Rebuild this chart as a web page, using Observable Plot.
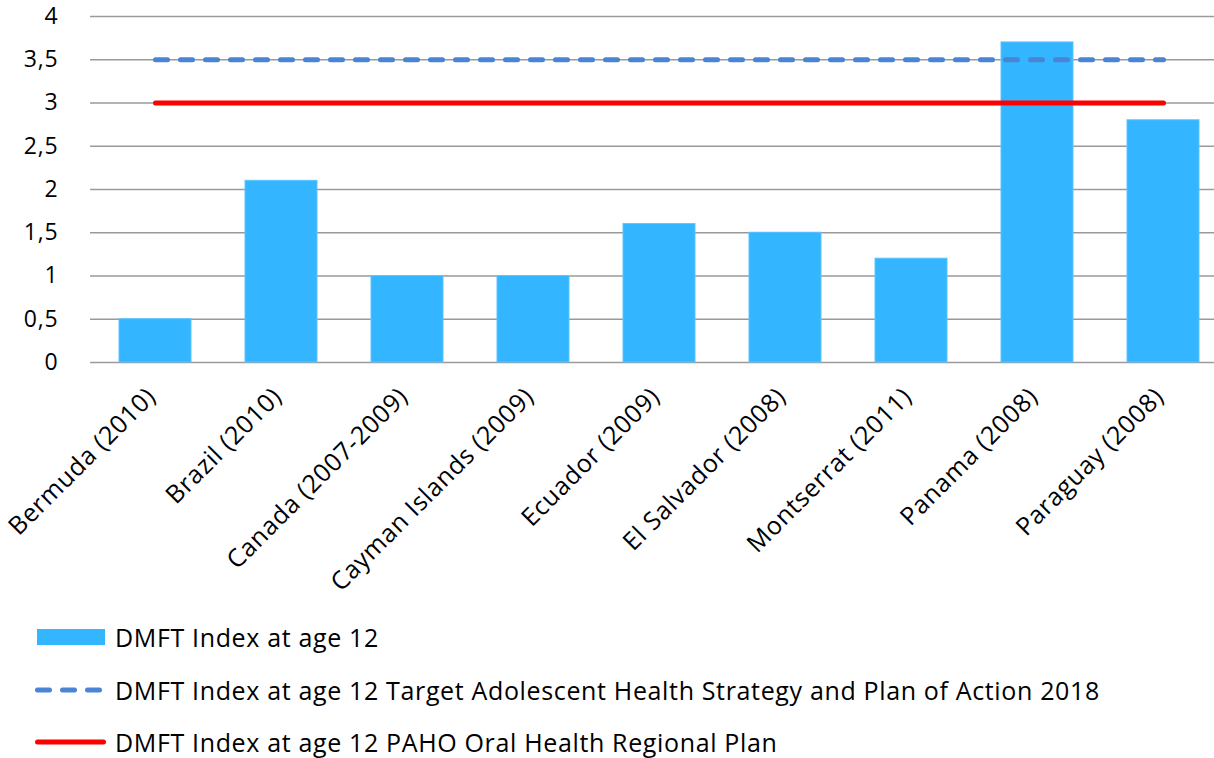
<!DOCTYPE html>
<html>
<head>
<meta charset="utf-8">
<script src="https://cdn.jsdelivr.net/npm/d3@7"></script>
<script src="https://cdn.jsdelivr.net/npm/@observablehq/plot@0.6"></script>
<style>
  html, body { margin: 0; padding: 0; background: #fff; }
  body { width: 1214px; height: 758px; position: relative; overflow: hidden; font-family: "Open Sans", sans-serif; }
  #chart { position: absolute; left: 0; top: 0; }
  .legend-item { position: absolute; left: 0; height: 30px; display: flex; align-items: center; font-size: 25px; letter-spacing: 0.65px; color: #000; white-space: nowrap; }
  .legend-item svg { display: block; margin-right: 8px; }
  .xaxis text { letter-spacing: 0.65px; }
  .yaxis text { letter-spacing: 0.8px; }
</style>
</head>
<body>
<div id="chart"></div>
<div id="legend"></div>
<script>
const categories = ["Bermuda (2010)", "Brazil (2010)", "Canada (2007-2009)", "Cayman Islands (2009)", "Ecuador (2009)", "El Salvador (2008)", "Montserrat (2011)", "Panama (2008)", "Paraguay (2008)"];
const dmftValues = [0.5, 2.1, 1.0, 1.0, 1.6, 1.5, 1.2, 3.7, 2.8];
const adolescentTarget = [3.5, 3.5, 3.5, 3.5, 3.5, 3.5, 3.5, 3.5, 3.5];
const pahoTarget = [3, 3, 3, 3, 3, 3, 3, 3, 3];
const yTicks = [0, 0.5, 1, 1.5, 2, 2.5, 3, 3.5, 4];
const seriesNames = [
  "DMFT Index at age 12",
  "DMFT Index at age 12 Target Adolescent Health Strategy and Plan of Action 2018",
  "DMFT Index at age 12 PAHO Oral Health Regional Plan"
];

const rows = categories.map((c, i) => ({category: c, dmft: dmftValues[i], adol: adolescentTarget[i], paho: pahoTarget[i]}));

const BAR = "#33B5FF", DASH = "#4A84D4", RED = "#FF0000";

const chart = Plot.plot({
  width: 1214,
  height: 610,
  marginTop: 16,
  marginBottom: 248,
  marginLeft: 90,
  marginRight: 0,
  style: {fontFamily: "Open Sans, sans-serif", color: "#000", background: "transparent", overflow: "visible"},
  x: {domain: categories, range: [90, 1227.6], paddingInner: 0.43, paddingOuter: 0.215, label: null},
  y: {domain: [0, 4], label: null},
  marks: [
    Plot.ruleY(yTicks, {stroke: "#9a9a9a", strokeWidth: 1.5}),
    Plot.barY(rows, {x: "category", y: "dmft", fill: BAR, stroke: "#5cc4ff", strokeWidth: 1}),
    Plot.line(rows, {x: "category", y: "adol", stroke: DASH, strokeWidth: 5, strokeDasharray: "12,13", strokeLinecap: "round"}),
    Plot.line(rows, {x: "category", y: "paho", stroke: RED, strokeWidth: 5, strokeLinecap: "round"}),
    Plot.axisX({tickRotate: -45, tickSize: 0, tickPadding: 30, dx: -4, fontSize: 25, label: null, className: "xaxis"}),
    Plot.axisY({ticks: yTicks, tickSize: 0, tickPadding: 32, fontSize: 23, label: null, className: "yaxis",
      tickFormat: d => String(d).replace(".", ",")})
  ]
});
document.getElementById("chart").appendChild(chart);

// Legend below the plot
const legend = document.getElementById("legend");
const legendTops = [622, 675, 727];
seriesNames.forEach((name, i) => {
  const item = document.createElement("div");
  item.className = "legend-item";
  item.style.top = legendTops[i] + "px";
  const svg = d3.create("svg").attr("width", 115).attr("height", 30);
  if (i === 0) {
    svg.append("rect").attr("x", 37).attr("y", 7).attr("width", 68).attr("height", 16).attr("fill", BAR);
  } else if (i === 1) {
    svg.append("line").attr("x1", 37.5).attr("x2", 99.5).attr("y1", 15).attr("y2", 15)
      .attr("stroke", DASH).attr("stroke-width", 5).attr("stroke-dasharray", "12,13").attr("stroke-linecap", "round");
  } else {
    svg.append("line").attr("x1", 37.5).attr("x2", 103.5).attr("y1", 15).attr("y2", 15)
      .attr("stroke", RED).attr("stroke-width", 5).attr("stroke-linecap", "round");
  }
  item.appendChild(svg.node());
  const span = document.createElement("span");
  span.textContent = name;
  span.style.marginLeft = "-8px";
  item.appendChild(span);
  legend.appendChild(item);
});
</script>
</body>
</html>
